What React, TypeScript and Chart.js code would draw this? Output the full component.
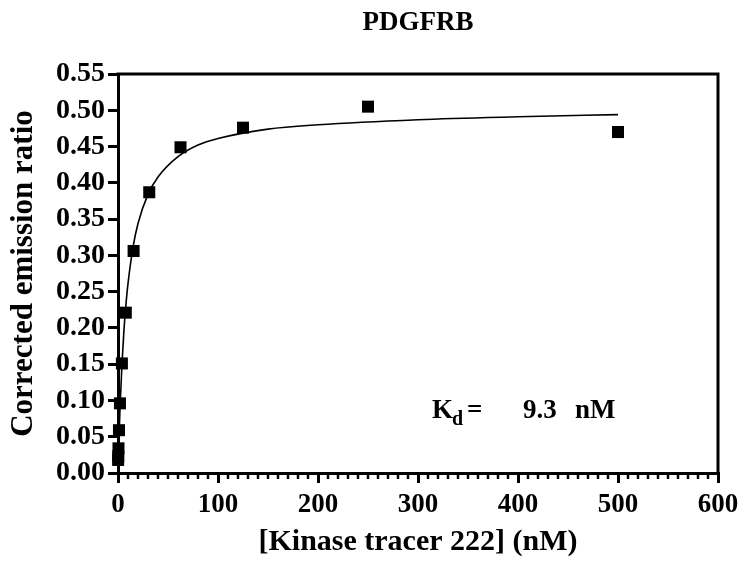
import React, { useEffect, useRef } from "react";
import { Chart, registerables } from "chart.js";

Chart.register(...registerables);

// ---- data ----
const TITLE = "PDGFRB";
const X_TITLE = "[Kinase tracer 222] (nM)";
const Y_TITLE = "Corrected emission ratio";

const tracerConc = [0.122, 0.244, 0.488, 0.977, 1.95, 3.9, 7.8, 15.6, 31.25, 62.5, 125, 250, 500];
const emissionRatio = [0.018, 0.023, 0.034, 0.059, 0.096, 0.151, 0.221, 0.306, 0.387, 0.449, 0.476, 0.505, 0.47];

// fitted curve
const curveX = [0, 1, 2, 4, 6, 8, 10, 15, 20, 30, 40, 60, 80, 100, 150, 200, 300, 400, 500];
const curveY = [0, 0.049, 0.089, 0.151, 0.198, 0.233, 0.261, 0.311, 0.344, 0.384, 0.408, 0.436, 0.452, 0.461, 0.474, 0.48, 0.487, 0.491, 0.494];

const xTickValues = [0, 100, 200, 300, 400, 500, 600];
const yTickValues = [0, 0.05, 0.1, 0.15, 0.2, 0.25, 0.3, 0.35, 0.4, 0.45, 0.5, 0.55];

const KD_LABEL = "K";
const KD_SUB = "d";
const KD_EQ = "=";
const KD_VALUE = "9.3";
const KD_UNIT = "nM";

const FONT = "'Liberation Serif', 'Times New Roman', serif";

export default function App() {
  const ref = useRef<HTMLCanvasElement | null>(null);

  useEffect(() => {
    const canvas = ref.current;
    if (!canvas) return;

    const framePlugin = {
      id: "frameAndExtras",
      afterDraw(chart: any) {
        const { ctx, chartArea } = chart;
        const xs = chart.scales.x;
        const ys = chart.scales.y;
        ctx.save();
        // top & right frame
        ctx.strokeStyle = "#000";
        ctx.lineWidth = 3;
        ctx.beginPath();
        ctx.moveTo(chartArea.left - 1.5, chartArea.top);
        ctx.lineTo(chartArea.right, chartArea.top);
        ctx.lineTo(chartArea.right, chartArea.bottom);
        ctx.stroke();
        // minor x ticks
        ctx.lineWidth = 2.5;
        for (let v = 10; v < 600; v += 10) {
          if (v % 100 === 0) continue;
          const px = xs.getPixelForValue(v);
          ctx.beginPath();
          ctx.moveTo(px, chartArea.bottom);
          ctx.lineTo(px, chartArea.bottom + 6);
          ctx.stroke();
        }
        // Kd annotation
        const ax = xs.getPixelForValue(314);
        const ay = ys.getPixelForValue(0.0755);
        ctx.fillStyle = "#000";
        ctx.textBaseline = "alphabetic";
        ctx.textAlign = "left";
        ctx.font = `bold 27px ${FONT}`;
        ctx.fillText(KD_LABEL, ax, ay);
        ctx.font = `bold 20px ${FONT}`;
        ctx.fillText(KD_SUB, ax + 20, ay + 7);
        ctx.font = `bold 27px ${FONT}`;
        ctx.fillText(KD_EQ, ax + 35, ay);
        ctx.fillText(KD_VALUE, ax + 91, ay);
        ctx.fillText(KD_UNIT, ax + 143, ay);
        ctx.restore();
      },
    };

    const chart = new Chart(canvas, {
      type: "scatter",
      data: {
        datasets: [
          {
            type: "line",
            data: curveX.map((x, i) => ({ x, y: curveY[i] })),
            borderColor: "#000",
            borderWidth: 1.6,
            pointRadius: 0,
            fill: false,
            cubicInterpolationMode: "monotone",
            clip: false,
          } as any,
          {
            type: "scatter",
            data: tracerConc.map((x, i) => ({ x, y: emissionRatio[i] })),
            pointStyle: "rect",
            pointRadius: 8.5,
            pointHoverRadius: 8.5,
            backgroundColor: "#000",
            borderColor: "#000",
            borderWidth: 0,
            clip: false,
          } as any,
        ],
      },
      options: {
        responsive: false,
        animation: false,
        events: [],
        layout: { padding: { left: 0, right: 22, top: 0, bottom: 0 } },
        plugins: {
          legend: { display: false },
          tooltip: { enabled: false },
          title: {
            display: true,
            text: TITLE,
            color: "#000",
            fullSize: false,
            font: { family: FONT, size: 27, weight: "bold", lineHeight: 1.2 },
            padding: { top: 7, bottom: 34.6 },
          },
        },
        scales: {
          x: {
            type: "linear",
            min: 0,
            max: 600,
            afterBuildTicks: (scale: any) => {
              scale.ticks = xTickValues.map((v) => ({ value: v }));
            },
            afterFit: (scale: any) => {
              scale.height = 92;
              scale.paddingLeft = 0;
              scale.paddingRight = 0;
            },
            grid: {
              drawOnChartArea: false,
              drawTicks: true,
              tickLength: 10,
              lineWidth: 3,
              tickWidth: 3,
              color: "#000",
              tickColor: "#000",
            },
            border: { display: true, color: "#000", width: 3 },
            ticks: {
              color: "#000",
              padding: 6,
              maxRotation: 0,
              autoSkip: false,
              font: { family: FONT, size: 27, weight: "bold" },
              callback: (v: any) => String(v),
            },
            title: {
              display: true,
              text: X_TITLE,
              color: "#000",
              font: { family: FONT, size: 30, weight: "bold", lineHeight: 1.2 },
              padding: { top: 0, bottom: 5 },
            },
          },
          y: {
            type: "linear",
            min: 0,
            max: 0.55,
            afterBuildTicks: (scale: any) => {
              scale.ticks = yTickValues.map((v) => ({ value: v }));
            },
            afterFit: (scale: any) => {
              scale.width = 118;
              scale.paddingTop = 0;
              scale.paddingBottom = 0;
            },
            grid: {
              drawOnChartArea: false,
              drawTicks: true,
              tickLength: 10,
              lineWidth: 3,
              tickWidth: 3,
              color: "#000",
              tickColor: "#000",
            },
            border: { display: true, color: "#000", width: 3 },
            ticks: {
              color: "#000",
              padding: 3,
              autoSkip: false,
              font: { family: FONT, size: 28, weight: "bold" },
              callback: (v: any) => Number(v).toFixed(2),
            },
            title: {
              display: true,
              text: Y_TITLE,
              color: "#000",
              font: { family: FONT, size: 31, weight: "bold", lineHeight: 1.2 },
              padding: { top: 5, bottom: 0 },
            },
          },
        },
      } as any,
      plugins: [framePlugin],
    });

    return () => {
      chart.destroy();
    };
  }, []);

  return (
    <div style={{ position: "fixed", left: 0, top: 0, width: 740, height: 565, background: "#fff" }}>
      <canvas ref={ref} width={740} height={565} style={{ width: 740, height: 565, display: "block" }} />
    </div>
  );
}
